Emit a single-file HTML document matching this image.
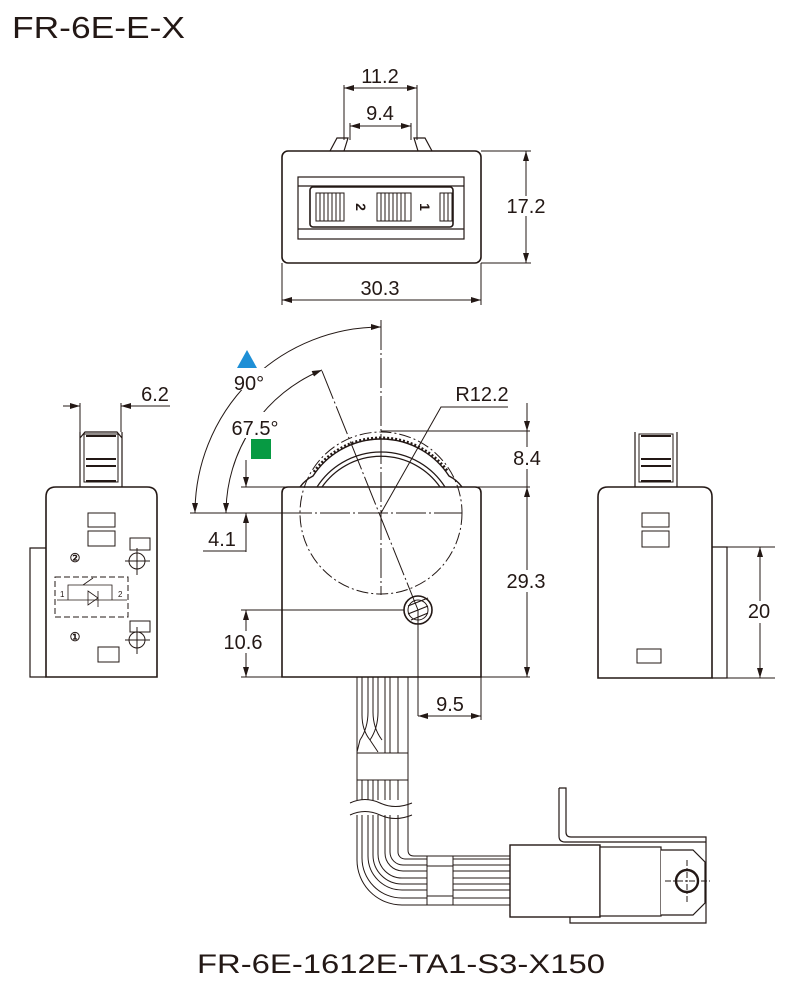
<!DOCTYPE html>
<html><head><meta charset="utf-8"><style>
html,body{margin:0;padding:0;background:#fff;}
svg{display:block;font-family:"Liberation Sans",sans-serif;}
</style></head><body>
<svg width="800" height="985" viewBox="0 0 800 985" xmlns="http://www.w3.org/2000/svg">
<defs>
<marker id="a" viewBox="0 0 10 6" refX="10" refY="3" markerWidth="10" markerHeight="6" orient="auto-start-reverse" markerUnits="userSpaceOnUse"><path d="M0,0L10,3L0,6z" fill="#231815"/></marker>
</defs>
<g fill="none" stroke="#231815" stroke-width="1.2">
<text x="12" y="38" font-size="31" fill="#231815" stroke="none" textLength="173" lengthAdjust="spacingAndGlyphs">FR-6E-E-X</text>
<text x="197" y="973" font-size="27" fill="#231815" stroke="none" textLength="408" lengthAdjust="spacingAndGlyphs">FR-6E-1612E-TA1-S3-X150</text>

<!-- TOP VIEW -->
<rect x="282" y="151" width="199" height="112" rx="6" stroke-width="1.6"/>
<path d="M330,151L337,138H348L344,151M432,151L425,138H414L418,151" />
<rect x="298" y="177" width="166" height="62"/>
<path d="M298,186H464M298,229H464"/>
<rect x="310" y="187" width="143" height="40" rx="3" stroke-width="1.6"/>
<g stroke-width="1">
<rect x="316" y="193" width="28" height="28"/>
<path d="M320,193v28M324,193v28M328,193v28M332,193v28M336,193v28M340,193v28"/>
<rect x="377" y="193" width="34" height="28"/>
<path d="M381,193v28M385,193v28M389,193v28M393,193v28M397,193v28M401,193v28M405,193v28"/>
<rect x="440" y="193" width="12" height="28"/>
<path d="M444,193v28M448,193v28"/>
</g>
<text x="0" y="0" font-size="14" font-weight="bold" fill="#231815" stroke="none" transform="translate(356,207) rotate(90)" text-anchor="middle">2</text>
<text x="0" y="0" font-size="14" font-weight="bold" fill="#231815" stroke="none" transform="translate(420,207) rotate(90)" text-anchor="middle">1</text>
<path d="M344,85V140M417,85V140" stroke-width="1"/>
<path d="M344,88H417" marker-start="url(#a)" marker-end="url(#a)" stroke-width="1"/>
<path d="M350,126H411" marker-start="url(#a)" marker-end="url(#a)" stroke-width="1"/>
<path d="M350,123V140M411,123V140" stroke-width="1"/>
<text x="380" y="83" font-size="20" fill="#231815" stroke="none" text-anchor="middle">11.2</text>
<text x="380" y="120" font-size="20" fill="#231815" stroke="none" text-anchor="middle">9.4</text>
<path d="M481,151H531M481,263H531" stroke-width="1"/>
<path d="M526,151V263" marker-start="url(#a)" marker-end="url(#a)" stroke-width="1"/>
<rect x="505" y="196" width="42" height="20" fill="#fff" stroke="none"/>
<text x="526" y="213" font-size="20" fill="#231815" stroke="none" text-anchor="middle">17.2</text>
<path d="M282,263V305M481,263V305" stroke-width="1"/>
<path d="M282,300H481" marker-start="url(#a)" marker-end="url(#a)" stroke-width="1"/>
<text x="380" y="295" font-size="20" fill="#231815" stroke="none" text-anchor="middle">30.3</text>

<!-- FRONT VIEW -->
<path d="M282,677V493Q282,487 288,487H475Q481,487 481,493V677Z" stroke-width="1.6"/>
<path d="M300,487Q305,480 313,476A81,81 0 0 1 449,476Q457,480 462,487" stroke-width="1.4"/>
<path d="M314,472A83,83 0 0 1 448,472" stroke-width="3" stroke-dasharray="2 2"/>
<path d="M317,487A76,76 0 0 1 445,487M322,487A72,72 0 0 1 440,487" stroke-width="1.2"/>
<circle cx="381" cy="513" r="81" stroke-dasharray="12 3 2 3" stroke-width="1"/>
<path d="M381,320V595" stroke-width="1" stroke-dasharray="30 3 2 3"/>
<path d="M282,513H462" stroke-width="1" stroke-dasharray="30 3 2 3"/>
<path d="M190,513H282" stroke-width="1"/>
<path d="M322,371L418,610" stroke-width="1" stroke-dasharray="30 3 2 3"/>
<circle cx="418" cy="610" r="14" stroke-width="1.6"/>
<circle cx="418" cy="610" r="10" stroke-width="1"/>
<path d="M408,606L428,598M408,614L428,606M411,620L428,613" stroke-width="1.2"/>
<path d="M418,610V716" stroke-width="1"/>
<path d="M241,610H404" stroke-width="1"/>
<path d="M241,677H530M241,487H530M381,431H530" stroke-width="1"/>
<path d="M381,327A186,186 0 0 0 195,513" marker-start="url(#a)" marker-end="url(#a)" stroke-width="1"/>
<path d="M322,370A155,155 0 0 0 226,513" marker-start="url(#a)" marker-end="url(#a)" stroke-width="1"/>
<rect x="230" y="368" width="40" height="22" fill="#fff" stroke="none"/>
<rect x="228" y="412" width="56" height="26" fill="#fff" stroke="none"/>
<text x="249" y="390" font-size="20" fill="#231815" stroke="none" text-anchor="middle">90°</text>
<text x="255" y="435" font-size="20" fill="#231815" stroke="none" text-anchor="middle">67.5°</text>
<path d="M237,368L247,350L257,368Z" fill="#1e8fd6" stroke="none"/>
<rect x="251" y="439" width="20" height="20" fill="#079a43" stroke="none"/>
<path d="M246,460V487" marker-end="url(#a)" stroke-width="1"/>
<path d="M246,552V513" marker-end="url(#a)" stroke-width="1"/>
<path d="M203,551H246" stroke-width="1"/>
<text x="222" y="546" font-size="20" fill="#231815" stroke="none" text-anchor="middle">4.1</text>
<path d="M246,610V677" marker-start="url(#a)" marker-end="url(#a)" stroke-width="1"/>
<rect x="222" y="631" width="42" height="22" fill="#fff" stroke="none"/>
<text x="243" y="649" font-size="20" fill="#231815" stroke="none" text-anchor="middle">10.6</text>
<path d="M381,513L441,407H508" stroke-width="1"/>
<text x="482" y="401" font-size="20" fill="#231815" stroke="none" text-anchor="middle">R12.2</text>
<path d="M527,403V431" marker-end="url(#a)" stroke-width="1"/>
<path d="M527,431V487" stroke-width="1"/>
<path d="M527,487V677" marker-start="url(#a)" marker-end="url(#a)" stroke-width="1"/>
<rect x="509" y="447" width="38" height="22" fill="#fff" stroke="none"/>
<text x="527" y="465" font-size="20" fill="#231815" stroke="none" text-anchor="middle">8.4</text>
<rect x="503" y="570" width="46" height="22" fill="#fff" stroke="none"/>
<text x="526" y="588" font-size="20" fill="#231815" stroke="none" text-anchor="middle">29.3</text>
<path d="M481,677V720" stroke-width="1"/>
<path d="M418,716H481" marker-start="url(#a)" marker-end="url(#a)" stroke-width="1"/>
<text x="450" y="711" font-size="20" fill="#231815" stroke="none" text-anchor="middle">9.5</text>

<!-- CABLE -->
<g stroke-width="1">
<path d="M357,677V760M408,677V850"/>
<path d="M362,677V715Q362,730 370,740L378,752M368,677V712Q368,728 360,740L357,752M373,677V712Q373,728 382,740M378,677V712Q378,728 370,740M385,677V760M390,677V760M398,677V760"/>
<rect x="357" y="753" width="51" height="27" fill="#fff"/>
<path d="M362,780V800M368,780V800M373,780V800M378,780V800M385,780V800M390,780V800M398,780V800M357,780V800"/>
<path d="M350,803Q365,796 380,803T412,803M350,815Q365,808 380,815T412,815"/>
<path d="M357,815V860A45,45 0 0 0 402,905H510"/>
<path d="M362,815V858A40,40 0 0 0 402,898H510"/>
<path d="M368,815V856A34,34 0 0 0 402,890H510"/>
<path d="M373,815V855A29,29 0 0 0 402,884H510"/>
<path d="M378,815V854A24,24 0 0 0 402,878H510"/>
<path d="M385,815V853A18,18 0 0 0 403,871H510"/>
<path d="M390,815V852A13,13 0 0 0 403,865H510"/>
<path d="M398,815V852A7,7 0 0 0 405,859H510"/>
<path d="M408,815V850Q408,856 414,856H510"/>
<rect x="427" y="856" width="26" height="49" fill="#fff"/>
<path d="M427,866H453M427,896H453"/>
</g>
<path d="M559,788H566V832Q566,837 571,837H706V923H570V917" stroke-width="1.2"/>
<path d="M559,788V836Q559,842 565,842H706" stroke-width="1.2"/>
<rect x="510" y="845" width="90" height="72" fill="#fff" stroke-width="1.4"/>
<rect x="600" y="847" width="61" height="69" fill="#fff" stroke-width="1.2"/>
<path d="M661,850H693L705,862V903L693,915H661" fill="#fff" stroke-width="1.2"/>
<circle cx="687" cy="881" r="11" stroke-width="2.4"/>
<path d="M665,881H710M687,860V902" stroke-width="1" stroke-dasharray="6 2 2 2"/>

<!-- LEFT SIDE VIEW -->
<path d="M46,677V497Q46,487 56,487H147Q157,487 157,497V677Z" stroke-width="1.6"/>
<path d="M46,548H30V677H46"/>
<path d="M80,487V432M122,487V432M80,438L85,432H117L122,438" />
<rect x="84" y="434" width="34" height="48" stroke-width="1"/>
<path d="M86,436H116M86,459H116M86,466H116M86,481H116" stroke-width="2"/>
<path d="M80,403V432M121,403V432" stroke-width="1"/>
<path d="M63,406H80" marker-end="url(#a)" stroke-width="1"/>
<path d="M170,406H121" marker-end="url(#a)" stroke-width="1"/>
<text x="155" y="401" font-size="20" fill="#231815" stroke="none" text-anchor="middle">6.2</text>
<rect x="88" y="513" width="27" height="14" stroke-width="1"/>
<rect x="88" y="531" width="27" height="15" stroke-width="1"/>
<rect x="130" y="538" width="20" height="12" stroke-width="1"/>
<circle cx="137" cy="561" r="8" stroke-width="1"/>
<path d="M125,561H150M137,548V575" stroke-width="1"/>
<text x="75" y="562" font-size="12" font-weight="bold" fill="#231815" stroke="none" text-anchor="middle">②</text>
<rect x="55" y="577" width="73" height="40" stroke-width="1" stroke-dasharray="6 3"/>
<path d="M57,600H127M68,600V585H112V600M83,585L93,578" stroke-width="0.8"/>
<path d="M88,591L98,598L88,605ZM98,591V607" stroke-width="0.8"/>
<text x="60" y="597" font-size="8" fill="#231815" stroke="none">1</text>
<text x="118" y="597" font-size="8" fill="#231815" stroke="none">2</text>
<rect x="130" y="621" width="20" height="11" stroke-width="1"/>
<circle cx="137" cy="640" r="8" stroke-width="1"/>
<path d="M125,640H150M137,627V654" stroke-width="1"/>
<text x="75" y="641" font-size="12" font-weight="bold" fill="#231815" stroke="none" text-anchor="middle">①</text>
<rect x="98" y="647" width="21" height="15" stroke-width="1"/>

<!-- RIGHT SIDE VIEW -->
<path d="M598,678V497Q598,487 608,487H702Q712,487 712,497V678Z" stroke-width="1.6"/>
<path d="M712,547H727V678H712"/>
<path d="M635,487V432M677,487V432" />
<rect x="639" y="434" width="34" height="48" stroke-width="1"/>
<path d="M641,436H671M641,459H671M641,466H671M641,481H671" stroke-width="2"/>
<rect x="642" y="513" width="27" height="14" stroke-width="1"/>
<rect x="642" y="531" width="27" height="16" stroke-width="1"/>
<rect x="637" y="649" width="24" height="14" stroke-width="1"/>
<path d="M727,547H775M727,678H775" stroke-width="1"/>
<path d="M760,547V678" marker-start="url(#a)" marker-end="url(#a)" stroke-width="1"/>
<rect x="746" y="601" width="26" height="22" fill="#fff" stroke="none"/>
<text x="759" y="618" font-size="20" fill="#231815" stroke="none" text-anchor="middle">20</text>
</g>
</svg>
</body></html>
